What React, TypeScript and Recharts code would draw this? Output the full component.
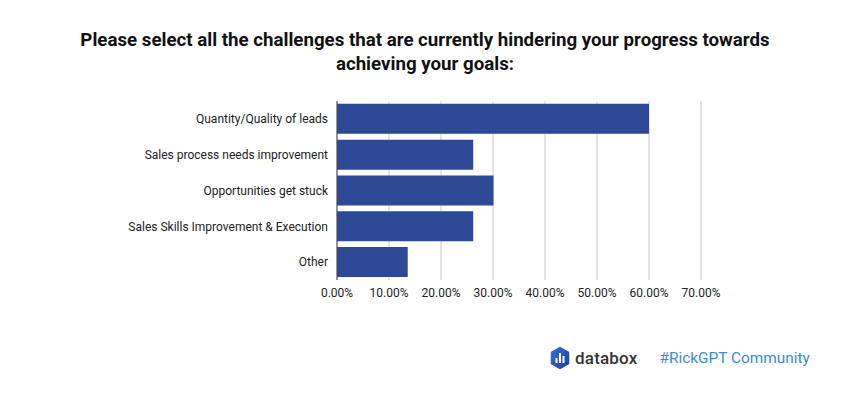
import React from 'react';
import { BarChart, Bar, XAxis, YAxis, CartesianGrid } from 'recharts';

const categories = [
  'Quantity/Quality of leads',
  'Sales process needs improvement',
  'Opportunities get stuck',
  'Sales Skills Improvement & Execution',
  'Other',
];
const shares = [60, 26.2, 30.1, 26.2, 13.6];
const xTicks = [0, 10, 20, 30, 40, 50, 60, 70];

const data = categories.map((name, i) => ({ name, value: shares[i] }));

const font = 'Roboto, "Noto Sans", sans-serif';

export default function App() {
  return (
    <div style={{ position: 'absolute', left: 0, top: 0, width: 850, height: 400, background: '#fff', fontFamily: font }}>
      <div style={{ position: 'absolute', left: 0, top: 29, width: 850, textAlign: 'center', fontSize: 18.7, fontWeight: 700, color: '#111', lineHeight: '23.5px' }}>
        Please select all the challenges that are currently hindering your progress towards
        <br />
        achieving your goals:
      </div>
      <BarChart
        width={850}
        height={400}
        data={data}
        layout="vertical"
        margin={{ top: 101, right: 149, bottom: 90, left: 0 }}
        barCategoryGap="8%"
      >
        <CartesianGrid horizontal={false} stroke="#c8c8c8" />
        <XAxis
          type="number"
          domain={[0, 70]}
          ticks={xTicks}
          interval={0}
          axisLine={false}
          tickLine={false}
          tickMargin={2}
          tickFormatter={(v: number) => v.toFixed(2) + '%'}
          tick={{ fontSize: 12, fill: '#222', fontFamily: font }}
        />
        <YAxis
          type="category"
          dataKey="name"
          width={337}
          axisLine={{ stroke: '#444' }}
          tickLine={false}
          tickMargin={3}
          tick={{ fontSize: 12, fill: '#222', fontFamily: font }}
        />
        <Bar dataKey="value" fill="#2e4a96" isAnimationActive={false} />
      </BarChart>
      <div style={{ position: 'absolute', left: 550, top: 347, display: 'flex', alignItems: 'center' }}>
        <svg width={20} height={22} viewBox="0 0 20 22">
          <defs>
            <linearGradient id="lg" x1="0" y1="0" x2="1" y2="1">
              <stop offset="0" stopColor="#3b6fd4" />
              <stop offset="1" stopColor="#1d3f9a" />
            </linearGradient>
          </defs>
          <path d="M10 0.5 L18.5 5.5 L18.5 16.5 L10 21.5 L1.5 16.5 L1.5 5.5 Z" fill="url(#lg)" stroke="url(#lg)" strokeWidth={1.5} strokeLinejoin="round" />
          <rect x={5.5} y={11} width={2} height={5} fill="#fff" />
          <rect x={9} y={6} width={2} height={10} fill="#fff" />
          <rect x={12.5} y={9} width={2} height={7} fill="#fff" />
        </svg>
        <span style={{ marginLeft: 5, fontSize: 17, fontWeight: 500, color: '#333', letterSpacing: 0.2 }}>databox</span>
        <span style={{ marginLeft: 22, fontSize: 15.4, color: '#3a8ad6' }}>#RickGPT Community</span>
      </div>
    </div>
  );
}
